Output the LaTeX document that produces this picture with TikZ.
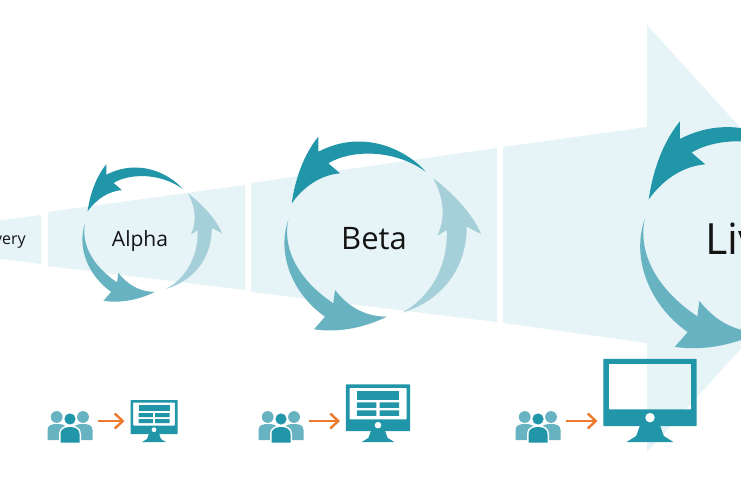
\documentclass[tikz,border=0pt]{standalone}
\usepackage{fontspec}
\usetikzlibrary{arrows.meta}
\setmainfont{Open Sans}
\definecolor{bandPale}{RGB}{230,243,247}
\definecolor{tealDark}{RGB}{32,150,168}
\definecolor{tealMid}{RGB}{104,179,193}
\definecolor{tealLight}{RGB}{165,208,218}
\definecolor{flowOrange}{RGB}{236,122,44}
\tikzset{
    band/.style={fill=bandPale},
    iconbox/.style={inner sep=0pt, outer sep=0pt, minimum height=10pt},
    flow/.style={flowOrange, line width=2.4pt, shorten >=6pt, shorten <=5pt, -{Straight Barb[length=8pt, width=15pt, line width=2.4pt]}},
    stage/.style={text=black!92, inner sep=0pt}
}
% three arrows of one cycle: {x}{y}{scale}
\newcommand{\cyclearrows}[3]{
    \begin{scope}[shift={(#1,#2)}, scale=#3]
        \fill[tealDark] (51.7,-66.3) .. controls (36,-84.7) and (-7.3,-111.3) .. (-55.7,-86.3) -- (-55.7,-101.3)
            .. controls (-70.7,-83) and (-79,-58) .. (-82.3,-34.7) .. controls (-69,-53) and (-52.3,-63) .. (-34,-64.7)
            -- (-45.7,-74.7) .. controls (-24,-88) and (19.3,-89.7) .. cycle;
        \fill[tealMid] (-85.7,-18) .. controls (-97.3,15.3) and (-82.3,55.3) .. (-49,78.7) -- (-60,91.3)
            .. controls (-34,95.3) and (-7.3,88.7) .. (12.7,78.7) .. controls (-10.7,78.7) and (-27.3,67) .. (-39,52)
            -- (-40.7,65.3) .. controls (-70.7,45.3) and (-92.3,15.3) .. cycle;
        \fill[tealLight] (27.7,74.7) .. controls (66,63.7) and (92.7,32) .. (92.7,-11.3) -- (107,-4)
            .. controls (99.3,-23) and (79.3,-44.7) .. (59.3,-59.7) .. controls (71,-38) and (71,-18) .. (63.3,-2.3)
            -- (72.7,-8) .. controls (74.3,32) and (52.7,62) .. cycle;
    \end{scope}
}
% group of three people, {x} is the middle
\newcommand{\usersicon}[1]{
    \begin{scope}[shift={(#1,0)}]
        \fill[tealMid] (-13.3,417) circle (5.9) (13,417) circle (5.9);
        \fill[tealMid] (-22.5,440) -- (-22.5,430) .. controls (-22.5,425) and (-18,424) .. (-13,424)
            .. controls (-8,424) and (-5,425) .. (-3,427) -- (-3,440) -- cycle;
        \fill[tealMid] (22.5,440) -- (22.5,430) .. controls (22.5,425) and (18,424) .. (13,424)
            .. controls (8,424) and (5,425) .. (3,427) -- (3,440) -- cycle;
        \fill[white] (-11,442.5) -- (-11,434) .. controls (-11,428) and (-6,425.5) .. (0,425.5)
            .. controls (6,425.5) and (11,428) .. (11,434) -- (11,442.5) -- cycle;
        \fill[tealDark] (0,419) circle (5.6);
        \fill[tealDark] (-9.5,442.5) -- (-9.5,434) .. controls (-9.5,429) and (-5,427) .. (0,427)
            .. controls (5,427) and (9.5,429) .. (9.5,434) -- (9.5,442.5) -- cycle;
    \end{scope}
}
% monitor: {x}{scale}, stand stands on y=442
\newcommand{\screenicon}[2]{
    \begin{scope}[shift={(#1,442)}, scale=#2]
        \fill[tealDark, even odd rule, rounded corners=0.5] (-23.5,-42) rectangle (23.5,-8) (-20.8,-39.5) rectangle (20.8,-16.5);
        \fill[white] (0,-12.3) circle (2.4);
        \fill[tealDark] (-5,-8.5) -- (5,-8.5) -- (7,-3) -- (11.8,0) -- (-11.8,0) -- (-7,-3) -- cycle;
    \end{scope}
}
% table on the screen of the smaller monitors
\newcommand{\screenbars}[2]{
    \begin{scope}[shift={(#1,442)}, scale=#2]
        \fill[tealDark] (-15.5,-37) rectangle (15.5,-31);
        \fill[tealDark] (-15.5,-29) rectangle (-1.2,-25) (1.2,-29) rectangle (15.5,-25);
        \fill[tealDark] (-15.5,-23) rectangle (-1.2,-19) (1.2,-23) rectangle (15.5,-19);
    \end{scope}
}

\begin{document}
\begin{tikzpicture}[x=1pt, y=-1pt]
    \useasboundingbox (0,0) rectangle (741,486);
    \clip (0,0) rectangle (741,486);
    \fill[white] (0,0) rectangle (741,486);
    % the widening bands and the big arrow
    \fill[band] (-5,221) -- (41,215) -- (41,264) -- (-5,258) -- cycle;
    \fill[band] (48,212) -- (245,185) -- (245,290) -- (48,266) -- cycle;
    \fill[band] (251,183) -- (497,148) -- (497,322) -- (251,292) -- cycle;
    \fill[band] (503,147) -- (647,127) -- (647,25) -- (841,238.5) -- (647,452) -- (647,343) -- (503,323) -- cycle;

    \cyclearrows{146}{236}{0.71}
    \cyclearrows{374}{238}{1}
    \cyclearrows{745}{240}{1.17}

    \node[stage, anchor=east, font=\fontsize{16}{16}\selectfont] (discovery) at (26,242) {very};
    \node[stage, font=\fontsize{21}{21}\selectfont] (alpha) at (140,241.5) {Alpha};
    \node[stage, font=\fontsize{31}{31}\selectfont] (beta) at (374,239) {Beta};
    \node[stage, anchor=west, font=\fontsize{43}{43}\selectfont] (live) at (705,239) {Live};

    % users -> screen
    \node[iconbox, minimum width=45pt] (usersAlpha) at (70,421) {};
    \node[iconbox, minimum width=47pt] (screenAlpha) at (154,421) {};
    \node[iconbox, minimum width=45pt] (usersBeta) at (281,421) {};
    \node[iconbox, minimum width=64pt] (screenBeta) at (378,421) {};
    \node[iconbox, minimum width=45pt] (usersLive) at (538,421) {};
    \node[iconbox, minimum width=93pt] (screenLive) at (650,421) {};

    \usersicon{70}
    \usersicon{281}
    \usersicon{538}
    \screenicon{154}{1}
    \screenbars{154}{1}
    \screenicon{378}{1.37}
    \screenbars{378}{1.37}
    \screenicon{650}{1.98}

    \foreach \stagename in {Alpha, Beta, Live} {
        \draw[flow] (users\stagename) -- (screen\stagename);
    }
\end{tikzpicture}
\end{document}
